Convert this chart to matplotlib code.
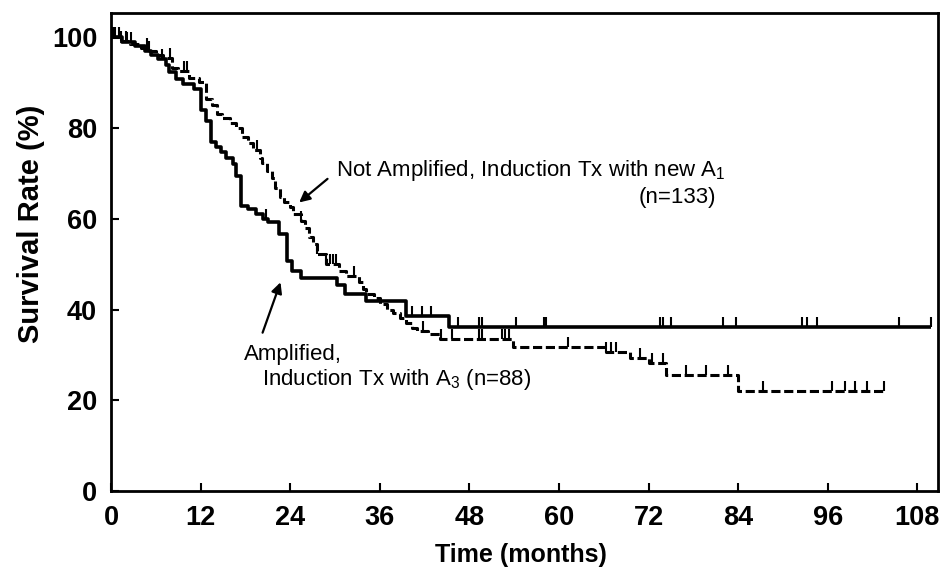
import numpy as np
import matplotlib
matplotlib.use("Agg")
import matplotlib.pyplot as plt

plt.rcParams['font.family'] = ['Liberation Sans', 'DejaVu Sans']
plt.rcParams['mathtext.fontset'] = 'custom'
plt.rcParams['mathtext.rm'] = 'Liberation Sans'

# Amplified, Induction Tx with A3 (n=88) -- solid
amp_times = [0, 1.5, 3.2, 4.6, 5.4, 6.3, 7.3, 7.8, 8.7, 9.6, 11.1, 12.0, 12.7, 13.4,
             14.0, 14.7, 15.4, 16.3, 16.7, 17.4, 18.3, 19.4, 20.3, 21.0, 22.5, 23.6,
             24.3, 25.4, 30.3, 31.4, 34.1, 39.5, 45.3]
amp_surv = [100, 99.0, 98.0, 97.0, 96.0, 95.2, 94.0, 92.4, 90.9, 89.8, 88.6, 84.0, 81.5, 77.0,
            75.8, 74.7, 73.5, 72.1, 69.5, 62.9, 62.2, 61.1, 60.0, 59.3, 56.7, 50.8,
            48.6, 46.9, 45.3, 43.4, 41.9, 38.5, 36.1]
amp_end = 109.8
amp_censor = [0.5, 1.0, 2.2, 2.7, 5.1, 6.8, 20.7, 40.3, 41.6, 42.9, 46.5, 49.3, 49.7,
              54.3, 58.0, 58.3, 73.6, 74.0, 75.0, 82.0, 83.7, 92.6, 93.2, 94.6, 105.6, 109.8]

# Not Amplified, Induction Tx with new A1 (n=133) -- dashed
nonamp_times = [0, 1.0, 2.5, 4.0, 5.0, 6.0, 7.0, 8.2, 9.0, 10.5, 11.8, 12.7, 13.5, 14.2,
                14.8, 16.0, 16.8, 17.6, 18.3, 19.0, 19.9, 20.2, 20.9, 21.5, 22.0, 22.6,
                23.2, 24.0, 24.4, 25.4, 26.0, 26.5, 27.0, 27.6, 28.8, 30.6, 31.5, 33.2,
                33.8, 34.2, 35.2, 36.0, 37.0, 37.8, 38.7, 39.5, 40.3, 41.0, 42.5, 44.0,
                53.8, 66.3, 69.5, 72.0, 74.3, 84.0]
nonamp_surv = [100, 99.2, 98.5, 97.7, 97.0, 96.2, 95.5, 93.2, 92.5, 91.0, 90.2, 86.5, 85.0, 83.2,
               82.3, 81.0, 80.0, 78.0, 76.6, 75.2, 73.5, 72.2, 70.6, 68.9, 66.7, 64.7,
               63.6, 62.5, 61.1, 59.6, 58.0, 56.0, 54.5, 52.3, 50.0, 48.6, 47.5, 46.0,
               44.6, 43.5, 42.6, 41.3, 40.0, 39.3, 38.2, 37.1, 36.0, 35.3, 34.7, 33.6,
               31.7, 30.6, 29.4, 28.3, 25.5, 22.0]
nonamp_end = 103.8
nonamp_censor = [0.3, 1.4, 2.0, 4.8, 7.9, 9.8, 10.2, 19.6, 25.5, 27.6, 28.8, 29.3, 29.8, 30.2,
                 32.6, 41.8, 44.2, 45.7, 49.3, 49.7, 52.4, 52.8, 53.3, 61.2, 66.3, 67.0,
                 67.6, 70.8, 72.4, 73.9, 77.0, 79.7, 82.6, 87.3, 96.6, 98.3, 99.6, 101.2, 103.6]

x_ticks = [0, 12, 24, 36, 48, 60, 72, 84, 96, 108]
y_ticks = [0, 20, 40, 60, 80, 100]

fig = plt.figure(figsize=(9.41, 5.75), dpi=100)
ax = fig.add_axes([0.118, 0.146, 0.879, 0.831])


def draw(times, surv, end, censor, ls, lw):
    xs = list(times) + [end]
    ys = list(surv) + [surv[-1]]
    ax.step(xs, ys, where='post', color='black', lw=lw, linestyle=ls,
            solid_capstyle='butt')
    t = np.asarray(times)
    s = np.asarray(surv)
    idx = np.searchsorted(t, censor, side='right') - 1
    base = s[idx]
    ax.vlines(censor, base, base + 2.2, color='black', lw=1.5)


draw(amp_times, amp_surv, amp_end, amp_censor, '-', 2.6)
draw(nonamp_times, nonamp_surv, nonamp_end, nonamp_censor, (0, (3.0, 1.2)), 2.2)

ax.set_xlim(0, 110.8)
ax.set_ylim(0, 105.3)
ax.set_xticks(x_ticks)
ax.set_yticks(y_ticks)
ax.tick_params(direction='in', length=6, width=1.5, labelsize=19.5)
ax.tick_params(axis='x', pad=10)
ax.tick_params(axis='y', pad=10)
for lab in ax.get_xticklabels() + ax.get_yticklabels():
    lab.set_fontweight('bold')
for sp in ax.spines.values():
    sp.set_linewidth(2.0)

ax.set_xlabel('Time (months)', fontsize=18, fontweight='bold')
ax.set_ylabel('Survival Rate (%)', fontsize=21, fontweight='bold')
ax.xaxis.set_label_coords(0.495, -0.108)
ax.yaxis.set_label_coords(-0.08, 0.56)

ann_fs = 16
ax.text(30.1, 70.6, r'Not Amplified, Induction Tx with new A$_\mathregular{1}$',
        fontsize=ann_fs, ha='left', va='center')
ax.text(81.0, 64.7, '(n=133)', fontsize=ann_fs, ha='right', va='center')
ax.annotate('', xy=(25.2, 63.6), xytext=(29.0, 68.8),
            arrowprops=dict(arrowstyle='-|>', color='black', lw=1.6, mutation_scale=16,
                            shrinkA=0, shrinkB=0))

ax.text(17.8, 30.2, 'Amplified,', fontsize=ann_fs, ha='left', va='center')
ax.text(20.2, 24.6, r'Induction Tx with A$_\mathregular{3}$ (n=88)', fontsize=ann_fs,
        ha='left', va='center')
ax.annotate('', xy=(22.7, 46.0), xytext=(20.3, 34.9),
            arrowprops=dict(arrowstyle='-|>', color='black', lw=1.6, mutation_scale=16,
                            shrinkA=0, shrinkB=0))

fig.savefig('out.png', dpi=100)
